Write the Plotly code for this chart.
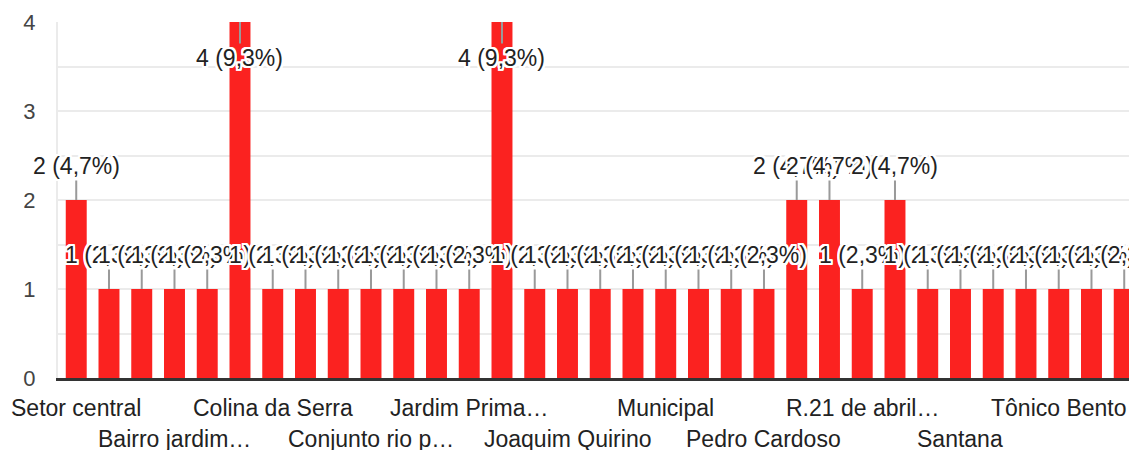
import plotly.graph_objects as go

categories = [
    "Setor central", "Aeroporto", "Alto da Boa Vista", "Bairro jardim América",
    "Bela Vista", "Centro", "Colina da Serra", "Conjunto Cruzeiro",
    "Conjunto Primavera", "Conjunto rio preto", "Itamaraty", "Jardim Europa",
    "Jardim Primavera", "Jardim Tropical", "Joana D'Arc", "Joaquim Quirino",
    "Lagoa Seca", "Mansões", "Municipal", "Nova Esperança", "Parque das Águas",
    "Pedro Cardoso", "Primavera", "Progresso", "R.21 de abril bairro",
    "Res. Bela Vista", "Santa Luzia", "Santana", "São José", "Setor Norte",
    "Tônico Bento", "Vila Nova", "Vila Operária",
]
values = [2, 1, 1, 1, 1, 4, 1, 1, 1, 1, 1, 1, 1, 4, 1, 1, 1, 1, 1, 1, 1, 1,
          2, 2, 1, 2, 1, 1, 1, 1, 1, 1, 1]
tick_labels = ["Setor central", "Bairro jardim…", "Colina da Serra",
               "Conjunto rio p…", "Jardim Prima…", "Joaquim Quirino",
               "Municipal", "Pedro Cardoso", "R.21 de abril…", "Santana",
               "Tônico Bento"]
y_ticks = [0, 1, 2, 3, 4]

FONT = "Liberation Sans, Arial, sans-serif"
BAR = "#fb2220"
total = sum(values)

halo = ", ".join(f"{dx}px {dy}px 0 #fff" for dx in (-2, -1, 0, 1, 2)
                 for dy in (-2, -1, 0, 1, 2) if (dx, dy) != (0, 0))

fig = go.Figure(go.Bar(x=categories, y=values, marker=dict(color=BAR, line=dict(width=0)),
                       hoverinfo="skip"))

annotations = []
for c, v in zip(categories, values):
    pct = f"{v / total * 100:.1f}".replace(".", ",")
    annotations.append(dict(
        x=c, y=v, xref="x", yref="y", text=f"{v} ({pct}%)",
        showarrow=True, arrowhead=0, arrowwidth=2, arrowcolor="#9a9a9a",
        ax=0, ay=(36 if v >= 4 else -34), standoff=0,
        font=dict(family=FONT, size=23, color="#222", shadow=halo),
    ))

for i, lab in enumerate(tick_labels):
    annotations.append(dict(
        x=categories[3 * i], y=0, xref="x", yref="paper", text=lab,
        showarrow=False, yanchor="middle", yshift=(-30 if i % 2 == 0 else -61),
        font=dict(family=FONT, size=23, color="#222"),
    ))

fig.update_layout(
    width=1129, height=442,
    margin=dict(l=50, r=0, t=14, b=72, autoexpand=False),
    paper_bgcolor="white", plot_bgcolor="white",
    bargap=0.36, showlegend=False,
    annotations=annotations,
    font=dict(family=FONT),
    xaxis=dict(range=[-0.557, 32.39], showticklabels=False, showgrid=False,
               zeroline=False, ticks="", showline=True, linecolor="#333",
               linewidth=3, automargin=False),
    yaxis=dict(range=[0, 4], tickvals=y_ticks, ticks="", showgrid=True,
               gridcolor="#ebebeb", gridwidth=2, zeroline=False,
               showline=True, linecolor="#ebebeb", linewidth=2,
               minor=dict(dtick=0.5, showgrid=True, gridcolor="#ebebeb", gridwidth=2),
               tickfont=dict(family=FONT, size=22, color="#444"),
               ticklabelstandoff=16, automargin=False),
)

fig.write_html("out.html")
